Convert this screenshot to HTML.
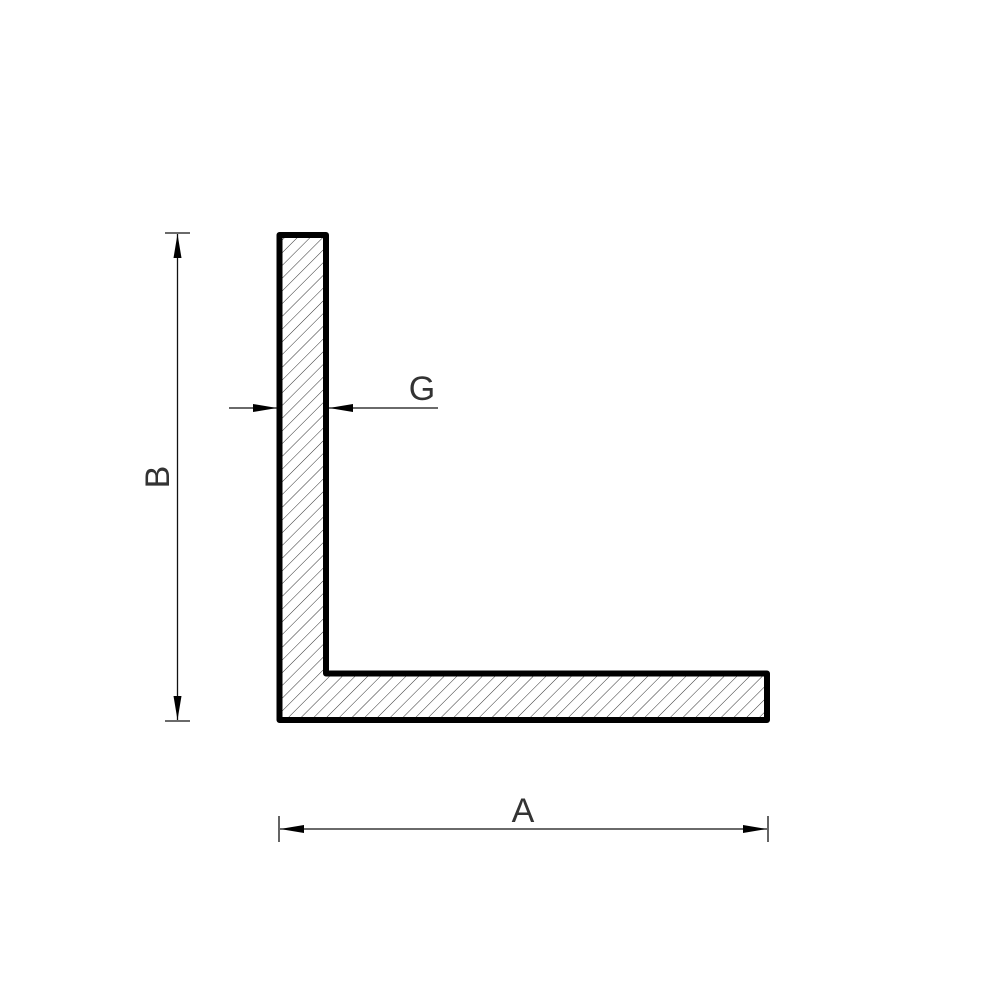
<!DOCTYPE html>
<html><head><meta charset="utf-8"><style>
html,body{margin:0;padding:0;background:#fff;}
svg{display:block;}
text{font-family:"Liberation Sans",sans-serif;fill:#333;}
</style></head><body>
<svg width="1000" height="1000" viewBox="0 0 1000 1000">
<defs>
<pattern id="hatch" patternUnits="userSpaceOnUse" width="9" height="9" patternTransform="rotate(45)">
<line x1="0" y1="0" x2="0" y2="9" stroke="#333" stroke-width="1"/>
</pattern>
<marker id="arr" markerWidth="24" markerHeight="8" refX="24" refY="4" orient="auto" markerUnits="userSpaceOnUse">
<path d="M0,0 L24,4 L0,8 Z" fill="#000"/>
</marker>
</defs>
<path d="M279.5,235 L326,235 L326,673.5 L767,673.5 L767,720 L279.5,720 Z" fill="url(#hatch)" stroke="#000" stroke-width="6" stroke-linejoin="round"/>
<g stroke="#111" stroke-width="1.3">
<line x1="165" y1="233" x2="190" y2="233"/>
<line x1="165" y1="721" x2="190" y2="721"/>
<line x1="177.5" y1="477" x2="177.5" y2="234" marker-end="url(#arr)"/>
<line x1="177.5" y1="477" x2="177.5" y2="720" marker-end="url(#arr)"/>
</g>
<text x="0" y="0" font-size="34" text-anchor="middle" transform="translate(169,477) rotate(-90)">B</text>
<g stroke="#111" stroke-width="1.3">
<line x1="279" y1="816" x2="279" y2="842"/>
<line x1="768" y1="816" x2="768" y2="842"/>
<line x1="523" y1="829" x2="280" y2="829" marker-end="url(#arr)"/>
<line x1="523" y1="829" x2="767" y2="829" marker-end="url(#arr)"/>
</g>
<text x="523" y="822" font-size="34" text-anchor="middle">A</text>
<g stroke="#111" stroke-width="1.3">
<line x1="229" y1="408" x2="277" y2="408" marker-end="url(#arr)"/>
<line x1="438" y1="408" x2="329" y2="408" marker-end="url(#arr)"/>
</g>
<text x="422" y="400" font-size="34" text-anchor="middle">G</text>
</svg>
</body></html>
